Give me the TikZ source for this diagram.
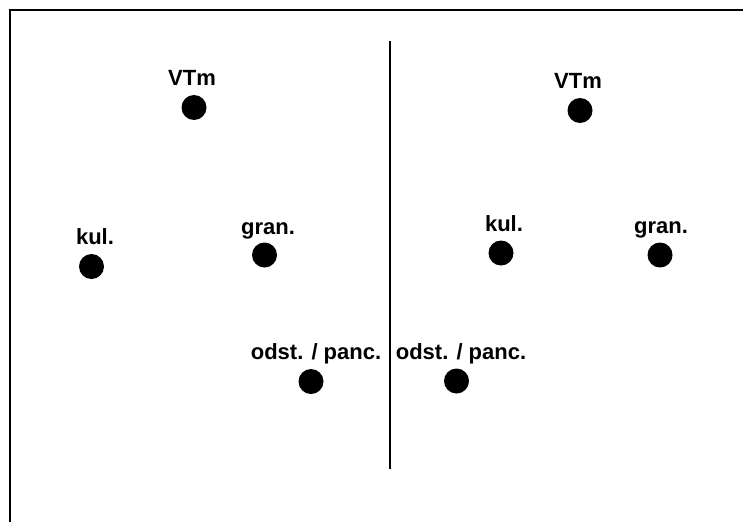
\documentclass[tikz,border=0pt]{standalone}
\usepackage{fontspec}
\setmainfont{Liberation Sans}
\begin{document}
\begin{tikzpicture}[x=1pt,y=-1pt,
  dot/.style={circle,fill=black,inner sep=0pt,minimum size=25pt},
  lbl/.style={anchor=base,inner sep=0pt,font=\fontsize{22}{24}\selectfont\bfseries}]
\useasboundingbox (0,0) rectangle (743,522);
\fill[white] (0,0) rectangle (743,522);
% frame
\coordinate (tl) at (10,10);
\coordinate (tr) at (743,10);
\coordinate (bl) at (10,522);
\draw[line width=2.2pt] (tr) -- (tl) -- (bl);
% divider
\coordinate (dtop) at (390,41);
\coordinate (dbot) at (390,469);
\draw[line width=1.3pt] (dtop) -- (dbot);
% left panel
\node[dot] (lvtm) at (194,107.5) {};
\node[lbl] (lvtmL) at (192,85) {VTm};
\node[dot] (lkul) at (91.5,266.5) {};
\node[lbl] (lkulL) at (95,244) {kul.};
\node[dot] (lgran) at (264.5,255) {};
\node[lbl] (lgranL) at (268,234) {gran.};
\node[dot] (lodst) at (311,381.5) {};
\node[lbl] (lodstL) at (316,359) {odst. / panc.};
% right panel
\node[dot] (rvtm) at (580,110.5) {};
\node[lbl] (rvtmL) at (578,88) {VTm};
\node[dot] (rkul) at (501,253) {};
\node[lbl] (rkulL) at (504,231) {kul.};
\node[dot] (rgran) at (660,255) {};
\node[lbl] (rgranL) at (661,233) {gran.};
\node[dot] (rodst) at (456.5,381) {};
\node[lbl] (rodstL) at (461,359) {odst. / panc.};
\end{tikzpicture}
\end{document}
